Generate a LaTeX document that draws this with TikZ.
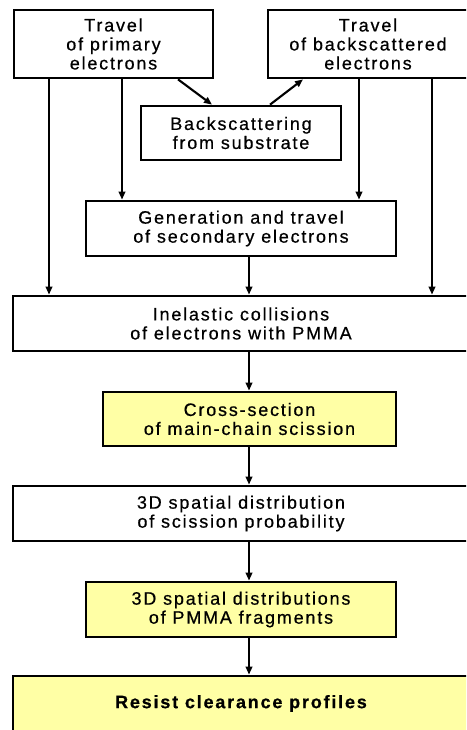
\documentclass[tikz,border=0pt]{standalone}
\usepackage{fontspec}
\setmainfont{Liberation Sans}[LetterSpace=10,FakeBold=0.6]
\usetikzlibrary{arrows.meta}
\definecolor{boxyellow}{RGB}{255,255,165}
\tikzset{
  flowbox/.style={draw=black, line width=2.7pt, align=center, inner sep=0pt,
    font=\fontsize{18}{19}\selectfont},
  yellowbox/.style={flowbox, fill=boxyellow},
  arr/.style={line width=2.1pt, -{Triangle[length=8pt,width=6.5pt]}},
}
\begin{document}
\begin{tikzpicture}[x=1pt,y=-1pt]
\useasboundingbox (0,0) rectangle (466,730);
\clip (0,0) rectangle (466,730);
\node[flowbox, minimum width=199pt, minimum height=68pt] (b1) at (113.5,44) {Travel\\of primary\\electrons};
\node[flowbox, minimum width=200pt, minimum height=68pt] (b2) at (368,44) {Travel\\of backscattered\\electrons};
\node[flowbox, minimum width=200pt, minimum height=54pt] (b3) at (241,133) {Backscattering\\from substrate};
\node[flowbox, minimum width=310pt, minimum height=55pt] (b4) at (241,228.5) {Generation and travel\\of secondary electrons};
\node[flowbox, minimum width=456pt, minimum height=55pt] (b5) at (241,323.5) {Inelastic collisions\\of electrons with PMMA};
\node[yellowbox, minimum width=293pt, minimum height=54pt] (b6) at (249.5,419) {Cross-section\\of main-chain scission};
\node[flowbox, minimum width=456pt, minimum height=55pt] (b7) at (241,513.5) {3D spatial distribution\\of scission probability};
\node[yellowbox, minimum width=310pt, minimum height=55pt] (b8) at (241,609.5) {3D spatial distributions\\of PMMA fragments};
\node[yellowbox, minimum width=456pt, minimum height=55pt, font=\fontsize{18}{19}\selectfont\bfseries] (b9) at (241,703.5) {Resist clearance profiles};
\coordinate (xa) at (49,0);
\coordinate (xb) at (122,0);
\coordinate (xc) at (359,0);
\coordinate (xd) at (432,0);
\coordinate (xm) at (249,0);
\coordinate (d1s) at (178,0);
\coordinate (d1e) at (212,0);
\coordinate (d2s) at (270,0);
\coordinate (d2e) at (303,0);
\draw[arr] (b1.south -| xa) -- (b5.north -| xa);
\draw[arr] (b1.south -| xb) -- (b4.north -| xb);
\draw[arr] (b2.south -| xc) -- (b4.north -| xc);
\draw[arr] (b2.south -| xd) -- (b5.north -| xd);
\draw[arr] (b1.south -| d1s) -- (b3.north -| d1e);
\draw[arr] (b3.north -| d2s) -- (b2.south -| d2e);
\draw[arr] (b4.south -| xm) -- (b5.north -| xm);
\draw[arr] (b5.south -| xm) -- (b6.north -| xm);
\draw[arr] (b6.south -| xm) -- (b7.north -| xm);
\draw[arr] (b7.south -| xm) -- (b8.north -| xm);
\draw[arr] (b8.south -| xm) -- (b9.north -| xm);
\end{tikzpicture}
\end{document}
